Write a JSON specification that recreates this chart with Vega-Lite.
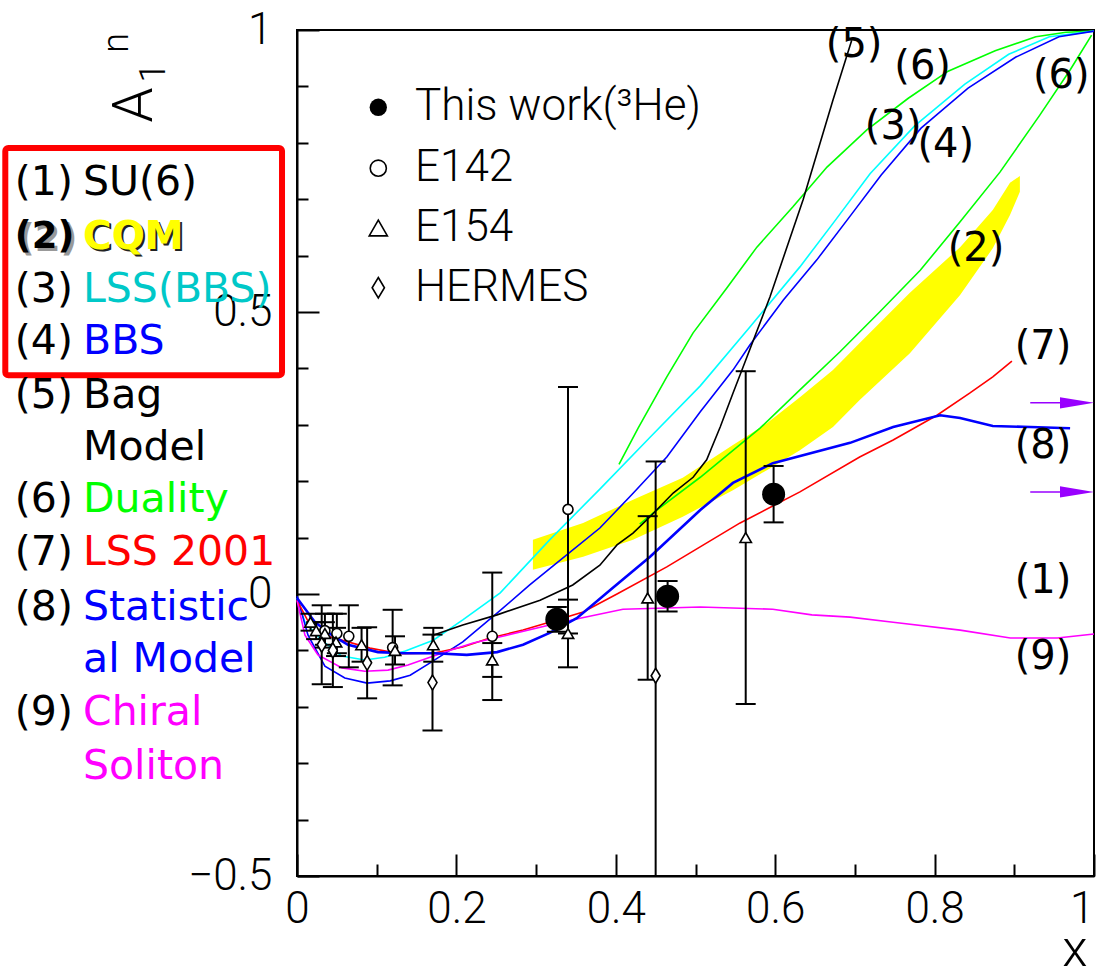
{
  "$schema": "https://vega.github.io/schema/vega-lite/v6.json",
  "width": 797,
  "height": 846,
  "autosize": "none",
  "padding": {"left": 297, "top": 30, "right": 9, "bottom": 102},
  "background": "white",
  "config": {"view": {"stroke": "black", "strokeWidth": 2}},
  "datasets": {
    "curves": [
      {"s": "dual", "x": 0.404, "y": 0.230}, {"s": "dual", "x": 0.428, "y": 0.294}, {"s": "dual", "x": 0.464, "y": 0.385}, {"s": "dual", "x": 0.497, "y": 0.463}, {"s": "dual", "x": 0.540, "y": 0.544}, {"s": "dual", "x": 0.577, "y": 0.615}, {"s": "dual", "x": 0.622, "y": 0.686}, {"s": "dual", "x": 0.665, "y": 0.757}, {"s": "dual", "x": 0.715, "y": 0.823}, {"s": "dual", "x": 0.767, "y": 0.879}, {"s": "dual", "x": 0.817, "y": 0.927}, {"s": "dual", "x": 0.876, "y": 0.963}, {"s": "dual", "x": 0.927, "y": 0.988}, {"s": "dual", "x": 0.965, "y": 0.996}, {"s": "dual", "x": 1.0, "y": 0.998},
      {"s": "dual2", "x": 0.430, "y": 0.124}, {"s": "dual2", "x": 0.447, "y": 0.144}, {"s": "dual2", "x": 0.506, "y": 0.207}, {"s": "dual2", "x": 0.581, "y": 0.294}, {"s": "dual2", "x": 0.631, "y": 0.362}, {"s": "dual2", "x": 0.681, "y": 0.429}, {"s": "dual2", "x": 0.731, "y": 0.500}, {"s": "dual2", "x": 0.782, "y": 0.574}, {"s": "dual2", "x": 0.832, "y": 0.660}, {"s": "dual2", "x": 0.882, "y": 0.748}, {"s": "dual2", "x": 0.932, "y": 0.849}, {"s": "dual2", "x": 0.970, "y": 0.929}, {"s": "dual2", "x": 0.997, "y": 0.991},
      {"s": "lss", "x": 0.0, "y": -0.007}, {"s": "lss", "x": 0.010, "y": -0.050}, {"s": "lss", "x": 0.031, "y": -0.082}, {"s": "lss", "x": 0.056, "y": -0.110}, {"s": "lss", "x": 0.085, "y": -0.117}, {"s": "lss", "x": 0.110, "y": -0.112}, {"s": "lss", "x": 0.136, "y": -0.101}, {"s": "lss", "x": 0.171, "y": -0.082}, {"s": "lss", "x": 0.208, "y": -0.046}, {"s": "lss", "x": 0.255, "y": 0.002}, {"s": "lss", "x": 0.317, "y": 0.096}, {"s": "lss", "x": 0.380, "y": 0.186}, {"s": "lss", "x": 0.443, "y": 0.278}, {"s": "lss", "x": 0.506, "y": 0.369}, {"s": "lss", "x": 0.568, "y": 0.473}, {"s": "lss", "x": 0.631, "y": 0.580}, {"s": "lss", "x": 0.673, "y": 0.658}, {"s": "lss", "x": 0.719, "y": 0.745}, {"s": "lss", "x": 0.775, "y": 0.830}, {"s": "lss", "x": 0.838, "y": 0.904}, {"s": "lss", "x": 0.893, "y": 0.957}, {"s": "lss", "x": 0.944, "y": 0.988}, {"s": "lss", "x": 1.0, "y": 0.998},
      {"s": "bbs", "x": 0.0, "y": -0.004}, {"s": "bbs", "x": 0.0138, "y": -0.073}, {"s": "bbs", "x": 0.035, "y": -0.128}, {"s": "bbs", "x": 0.060, "y": -0.149}, {"s": "bbs", "x": 0.088, "y": -0.158}, {"s": "bbs", "x": 0.117, "y": -0.154}, {"s": "bbs", "x": 0.142, "y": -0.144}, {"s": "bbs", "x": 0.167, "y": -0.122}, {"s": "bbs", "x": 0.208, "y": -0.085}, {"s": "bbs", "x": 0.251, "y": -0.034}, {"s": "bbs", "x": 0.292, "y": 0.016}, {"s": "bbs", "x": 0.326, "y": 0.055}, {"s": "bbs", "x": 0.380, "y": 0.117}, {"s": "bbs", "x": 0.422, "y": 0.179}, {"s": "bbs", "x": 0.464, "y": 0.243}, {"s": "bbs", "x": 0.506, "y": 0.323}, {"s": "bbs", "x": 0.547, "y": 0.397}, {"s": "bbs", "x": 0.568, "y": 0.441}, {"s": "bbs", "x": 0.610, "y": 0.521}, {"s": "bbs", "x": 0.652, "y": 0.592}, {"s": "bbs", "x": 0.694, "y": 0.670}, {"s": "bbs", "x": 0.733, "y": 0.743}, {"s": "bbs", "x": 0.783, "y": 0.826}, {"s": "bbs", "x": 0.842, "y": 0.897}, {"s": "bbs", "x": 0.902, "y": 0.952}, {"s": "bbs", "x": 0.956, "y": 0.988}, {"s": "bbs", "x": 1.0, "y": 0.998},
      {"s": "lss01", "x": 0.0, "y": -0.011}, {"s": "lss01", "x": 0.0163, "y": -0.055}, {"s": "lss01", "x": 0.0414, "y": -0.076}, {"s": "lss01", "x": 0.0916, "y": -0.096}, {"s": "lss01", "x": 0.129, "y": -0.106}, {"s": "lss01", "x": 0.171, "y": -0.105}, {"s": "lss01", "x": 0.208, "y": -0.094}, {"s": "lss01", "x": 0.242, "y": -0.078}, {"s": "lss01", "x": 0.2836, "y": -0.064}, {"s": "lss01", "x": 0.326, "y": -0.046}, {"s": "lss01", "x": 0.359, "y": -0.032}, {"s": "lss01", "x": 0.4015, "y": 0.0}, {"s": "lss01", "x": 0.464, "y": 0.048}, {"s": "lss01", "x": 0.556, "y": 0.126}, {"s": "lss01", "x": 0.631, "y": 0.181}, {"s": "lss01", "x": 0.706, "y": 0.243}, {"s": "lss01", "x": 0.748, "y": 0.273}, {"s": "lss01", "x": 0.803, "y": 0.317}, {"s": "lss01", "x": 0.844, "y": 0.356}, {"s": "lss01", "x": 0.873, "y": 0.385}, {"s": "lss01", "x": 0.897, "y": 0.413},
      {"s": "chiral", "x": 0.0, "y": -0.011}, {"s": "chiral", "x": 0.010, "y": -0.073}, {"s": "chiral", "x": 0.0263, "y": -0.108}, {"s": "chiral", "x": 0.0565, "y": -0.131}, {"s": "chiral", "x": 0.085, "y": -0.137}, {"s": "chiral", "x": 0.1142, "y": -0.135}, {"s": "chiral", "x": 0.1393, "y": -0.126}, {"s": "chiral", "x": 0.1669, "y": -0.112}, {"s": "chiral", "x": 0.1945, "y": -0.099}, {"s": "chiral", "x": 0.221, "y": -0.087}, {"s": "chiral", "x": 0.2635, "y": -0.073}, {"s": "chiral", "x": 0.317, "y": -0.055}, {"s": "chiral", "x": 0.3551, "y": -0.043}, {"s": "chiral", "x": 0.409, "y": -0.027}, {"s": "chiral", "x": 0.506, "y": -0.023}, {"s": "chiral", "x": 0.597, "y": -0.027}, {"s": "chiral", "x": 0.646, "y": -0.037}, {"s": "chiral", "x": 0.694, "y": -0.041}, {"s": "chiral", "x": 0.748, "y": -0.050}, {"s": "chiral", "x": 0.832, "y": -0.064}, {"s": "chiral", "x": 0.895, "y": -0.078}, {"s": "chiral", "x": 0.954, "y": -0.078}, {"s": "chiral", "x": 1.0, "y": -0.071},
      {"s": "bag", "x": 0.1706, "y": -0.073}, {"s": "bag", "x": 0.208, "y": -0.055}, {"s": "bag", "x": 0.251, "y": -0.037}, {"s": "bag", "x": 0.305, "y": -0.011}, {"s": "bag", "x": 0.346, "y": 0.016}, {"s": "bag", "x": 0.380, "y": 0.051}, {"s": "bag", "x": 0.4015, "y": 0.087}, {"s": "bag", "x": 0.4216, "y": 0.108}, {"s": "bag", "x": 0.443, "y": 0.137}, {"s": "bag", "x": 0.472, "y": 0.179}, {"s": "bag", "x": 0.497, "y": 0.207}, {"s": "bag", "x": 0.514, "y": 0.238}, {"s": "bag", "x": 0.531, "y": 0.296}, {"s": "bag", "x": 0.547, "y": 0.356}, {"s": "bag", "x": 0.5596, "y": 0.402}, {"s": "bag", "x": 0.5935, "y": 0.527}, {"s": "bag", "x": 0.635, "y": 0.699}, {"s": "bag", "x": 0.6725, "y": 0.876}, {"s": "bag", "x": 0.696, "y": 0.982}
    ],
    "stat": [
      {"s": "stat", "x": 0.0, "y": -0.007}, {"s": "stat", "x": 0.0226, "y": -0.050}, {"s": "stat", "x": 0.0439, "y": -0.073}, {"s": "stat", "x": 0.064, "y": -0.090}, {"s": "stat", "x": 0.1016, "y": -0.103}, {"s": "stat", "x": 0.1355, "y": -0.105}, {"s": "stat", "x": 0.173, "y": -0.105}, {"s": "stat", "x": 0.213, "y": -0.108}, {"s": "stat", "x": 0.251, "y": -0.103}, {"s": "stat", "x": 0.2836, "y": -0.090}, {"s": "stat", "x": 0.317, "y": -0.069}, {"s": "stat", "x": 0.351, "y": -0.043}, {"s": "stat", "x": 0.393, "y": 0.007}, {"s": "stat", "x": 0.443, "y": 0.066}, {"s": "stat", "x": 0.506, "y": 0.149}, {"s": "stat", "x": 0.547, "y": 0.197}, {"s": "stat", "x": 0.597, "y": 0.232}, {"s": "stat", "x": 0.694, "y": 0.268}, {"s": "stat", "x": 0.748, "y": 0.296}, {"s": "stat", "x": 0.807, "y": 0.317}, {"s": "stat", "x": 0.832, "y": 0.312}, {"s": "stat", "x": 0.873, "y": 0.298}, {"s": "stat", "x": 0.920, "y": 0.296}, {"s": "stat", "x": 0.970, "y": 0.294}
    ],
    "band": [
      {"x": 0.296, "lo": 0.043, "hi": 0.096}, {"x": 0.359, "lo": 0.066, "hi": 0.126}, {"x": 0.4216, "lo": 0.096, "hi": 0.167}, {"x": 0.484, "lo": 0.137, "hi": 0.206}, {"x": 0.547, "lo": 0.184, "hi": 0.264}, {"x": 0.590, "lo": 0.220, "hi": 0.303}, {"x": 0.631, "lo": 0.255, "hi": 0.349}, {"x": 0.6725, "lo": 0.296, "hi": 0.397}, {"x": 0.706, "lo": 0.344, "hi": 0.445}, {"x": 0.769, "lo": 0.427, "hi": 0.534}, {"x": 0.832, "lo": 0.530, "hi": 0.615}, {"x": 0.873, "lo": 0.613, "hi": 0.681}, {"x": 0.8946, "lo": 0.672, "hi": 0.729}, {"x": 0.907, "lo": 0.713, "hi": 0.741}
    ],
    "pts": [
      {"set": "This work", "x": 0.326, "y": -0.045, "lo": -0.067, "hi": -0.023},
      {"set": "This work", "x": 0.465, "y": -0.004, "lo": -0.031, "hi": 0.023},
      {"set": "This work", "x": 0.598, "y": 0.177, "lo": 0.127, "hi": 0.227},
      {"set": "E142", "x": 0.035, "y": -0.065, "lo": -0.095, "hi": -0.035},
      {"set": "E142", "x": 0.050, "y": -0.070, "lo": -0.105, "hi": -0.035},
      {"set": "E142", "x": 0.065, "y": -0.075, "lo": -0.130, "hi": -0.020},
      {"set": "E142", "x": 0.120, "y": -0.095, "lo": -0.162, "hi": -0.028},
      {"set": "E142", "x": 0.245, "y": -0.075, "lo": -0.188, "hi": 0.038},
      {"set": "E142", "x": 0.340, "y": 0.150, "lo": -0.070, "hi": 0.367},
      {"set": "E154", "x": 0.017, "y": -0.050, "lo": -0.065, "hi": -0.035},
      {"set": "E154", "x": 0.024, "y": -0.065, "lo": -0.080, "hi": -0.050},
      {"set": "E154", "x": 0.035, "y": -0.070, "lo": -0.090, "hi": -0.050},
      {"set": "E154", "x": 0.049, "y": -0.085, "lo": -0.110, "hi": -0.060},
      {"set": "E154", "x": 0.081, "y": -0.090, "lo": -0.120, "hi": -0.060},
      {"set": "E154", "x": 0.123, "y": -0.100, "lo": -0.125, "hi": -0.075},
      {"set": "E154", "x": 0.171, "y": -0.090, "lo": -0.120, "hi": -0.060},
      {"set": "E154", "x": 0.245, "y": -0.117, "lo": -0.147, "hi": -0.087},
      {"set": "E154", "x": 0.340, "y": -0.070, "lo": -0.130, "hi": -0.010},
      {"set": "E154", "x": 0.440, "y": -0.007, "lo": -0.152, "hi": 0.138},
      {"set": "E154", "x": 0.563, "y": 0.100, "lo": -0.195, "hi": 0.395},
      {"set": "HERMES", "x": 0.031, "y": -0.090, "lo": -0.160, "hi": -0.020},
      {"set": "HERMES", "x": 0.045, "y": -0.100, "lo": -0.165, "hi": -0.035},
      {"set": "HERMES", "x": 0.088, "y": -0.122, "lo": -0.185, "hi": -0.059},
      {"set": "HERMES", "x": 0.170, "y": -0.157, "lo": -0.242, "hi": -0.072},
      {"set": "HERMES", "x": 0.450, "y": -0.145, "lo": -0.525, "hi": 0.235}
    ],
    "leg": [
      {"set": "This work", "t": "This work(³He)", "x": 0.102, "xt": 0.148, "y": 0.863},
      {"set": "E142", "t": "E142", "x": 0.102, "xt": 0.148, "y": 0.755},
      {"set": "E154", "t": "E154", "x": 0.102, "xt": 0.148, "y": 0.649},
      {"set": "HERMES", "t": "HERMES", "x": 0.102, "xt": 0.148, "y": 0.543}
    ],
    "tags": [
      {"t": "(5)", "x": 0.699, "y": 0.973}, {"t": "(6)", "x": 0.785, "y": 0.934}, {"t": "(6)", "x": 0.959, "y": 0.918},
      {"t": "(3)", "x": 0.748, "y": 0.828}, {"t": "(4)", "x": 0.814, "y": 0.796}, {"t": "(2)", "x": 0.852, "y": 0.612},
      {"t": "(7)", "x": 0.936, "y": 0.438}, {"t": "(8)", "x": 0.936, "y": 0.262}, {"t": "(1)", "x": 0.936, "y": 0.023}, {"t": "(9)", "x": 0.936, "y": -0.112}
    ],
    "nums": [
      {"t": "(1)", "x": -0.354, "y": 0.7287}, {"t": "(3)", "x": -0.354, "y": 0.539}, {"t": "(4)", "x": -0.354, "y": 0.4468},
      {"t": "(5)", "x": -0.354, "y": 0.351}, {"t": "(6)", "x": -0.354, "y": 0.1667}, {"t": "(7)", "x": -0.354, "y": 0.0727},
      {"t": "(8)", "x": -0.354, "y": -0.0248}, {"t": "(9)", "x": -0.354, "y": -0.211}
    ],
    "names": [
      {"t": "SU(6)", "s": "su6", "x": -0.2685, "y": 0.7287},
      {"t": "LSS(BBS)", "s": "lssT", "x": -0.2685, "y": 0.539},
      {"t": "BBS", "s": "bbs", "x": -0.2685, "y": 0.4468},
      {"t": "Bag", "s": "bag", "x": -0.2685, "y": 0.351},
      {"t": "Model", "s": "bag", "x": -0.2685, "y": 0.2589},
      {"t": "Duality", "s": "dual", "x": -0.2685, "y": 0.1667},
      {"t": "LSS 2001", "s": "lss01", "x": -0.2685, "y": 0.0727},
      {"t": "Statistic", "s": "stat", "x": -0.2685, "y": -0.0248},
      {"t": "al Model", "s": "stat", "x": -0.2685, "y": -0.117},
      {"t": "Chiral", "s": "chiral", "x": -0.2685, "y": -0.211},
      {"t": "Soliton", "s": "chiral", "x": -0.2685, "y": -0.3067}
    ],
    "cqm": [{"n": "(2)", "t": "CQM", "x": -0.354, "xt": -0.2685, "y": 0.633}],
    "box": [{"x": -0.366, "x2": -0.0188, "y": 0.791, "y2": 0.388}],
    "arrows": [{"x": 0.92, "x2": 0.985, "xh": 0.9787, "y": 0.339}, {"x": 0.92, "x2": 0.985, "xh": 0.9787, "y": 0.181}],
    "ylab": [{"t": "A", "x": -0.203, "y": 0.867, "k": "big"}, {"t": "1", "x": -0.179, "y": 0.924, "k": "small"}, {"t": "n", "x": -0.226, "y": 0.977, "k": "small"}],
    "xlab": [{"t": "x", "x": 0.976, "y": -0.679}]
  },
  "layer": [
    {
      "data": {"name": "band"},
      "mark": {"type": "area", "color": "#FFFF00", "opacity": 1},
      "encoding": {
        "x": {"field": "x", "type": "quantitative", "scale": {"domain": [0, 1], "nice": false, "zero": false}},
        "y": {"field": "lo", "type": "quantitative", "scale": {"domain": [-0.5, 1], "nice": false, "zero": false}},
        "y2": {"field": "hi"}
      }
    },
    {
      "data": {"name": "curves"},
      "mark": {"type": "line", "strokeWidth": 1.6, "opacity": 1},
      "encoding": {
        "x": {"field": "x", "type": "quantitative", "scale": {"domain": [0, 1], "nice": false, "zero": false},
          "axis": {"values": [0, 0.05, 0.1, 0.15, 0.2, 0.25, 0.3, 0.35, 0.4, 0.45, 0.5, 0.55, 0.6, 0.65, 0.7, 0.75, 0.8, 0.85, 0.9, 0.95, 1],
            "labelExpr": "datum.value==0?'0':datum.value==0.2?'0.2':datum.value==0.4?'0.4':datum.value==0.6?'0.6':datum.value==0.8?'0.8':datum.value==1?'1':''",
            "tickSize": {"condition": {"test": "datum.value==0||datum.value==0.2||datum.value==0.4||datum.value==0.6||datum.value==0.8||datum.value==1", "value": -22}, "value": -12},
            "labelAlign": {"condition": {"test": "datum.value==1", "value": "right"}, "value": "center"},
            "tickColor": "black", "tickWidth": 2, "domainColor": "black", "domainWidth": 2, "grid": false, "title": null,
            "labelFont": "Roboto", "labelFontWeight": 300, "labelFontSize": 44, "labelColor": "black", "labelPadding": 33,
            "labelFlush": false, "labelOverlap": false, "labelBound": false}},
        "y": {"field": "y", "type": "quantitative", "scale": {"domain": [-0.5, 1], "nice": false, "zero": false},
          "axis": {"values": [-0.5, -0.4, -0.3, -0.2, -0.1, 0, 0.1, 0.2, 0.3, 0.4, 0.5, 0.6, 0.7, 0.8, 0.9, 1],
            "labelExpr": "datum.value==1?'1':datum.value==0.5?'0.5':datum.value==0?'0':datum.value==-0.5?'\u22120.5':''",
            "tickSize": {"condition": {"test": "datum.value==-0.5||datum.value==0||datum.value==0.5||datum.value==1", "value": -22}, "value": -11},
            "tickColor": "black", "tickWidth": 2, "domainColor": "black", "domainWidth": 2, "grid": false, "title": null,
            "labelFont": "Roboto", "labelFontWeight": 300, "labelFontSize": 44, "labelColor": "black", "labelPadding": 47,
            "labelFlush": false, "labelOverlap": false, "labelBound": false}},
        "color": {"field": "s", "type": "nominal", "legend": null,
          "scale": {"domain": ["su6", "cqm", "lss", "lssT", "bbs", "bag", "dual", "dual2", "lss01", "stat", "chiral"],
            "range": ["#000000", "#FFFF00", "#00FFFF", "#00C8C8", "#0000FF", "#000000", "#00FF00", "#00FF00", "#FF0000", "#0000FF", "#FF00FF"]}}
      }
    },
    {
      "data": {"name": "stat"},
      "mark": {"type": "line", "strokeWidth": 2.6, "color": "#0000FF", "opacity": 1},
      "encoding": {
        "x": {"field": "x", "type": "quantitative", "scale": {"domain": [0, 1], "nice": false, "zero": false}},
        "y": {"field": "y", "type": "quantitative", "scale": {"domain": [-0.5, 1], "nice": false, "zero": false}}
      }
    },
    {
      "mark": {"type": "rule", "color": "black", "strokeWidth": 2},
      "encoding": {
        "y": {"datum": 0, "type": "quantitative", "scale": {"domain": [-0.5, 1], "nice": false, "zero": false}}
      }
    },
    {
      "data": {"name": "pts"},
      "mark": {"type": "rule", "color": "black", "strokeWidth": 2, "clip": true},
      "encoding": {
        "x": {"field": "x", "type": "quantitative", "scale": {"domain": [0, 1], "nice": false, "zero": false}},
        "y": {"field": "lo", "type": "quantitative", "scale": {"domain": [-0.5, 1], "nice": false, "zero": false}},
        "y2": {"field": "hi"}
      }
    },
    {
      "data": {"name": "pts"},
      "mark": {"type": "tick", "orient": "horizontal", "size": 20, "thickness": 2, "color": "black", "opacity": 1, "clip": true},
      "encoding": {
        "x": {"field": "x", "type": "quantitative", "scale": {"domain": [0, 1], "nice": false, "zero": false}},
        "y": {"field": "lo", "type": "quantitative", "scale": {"domain": [-0.5, 1], "nice": false, "zero": false}}
      }
    },
    {
      "data": {"name": "pts"},
      "mark": {"type": "tick", "orient": "horizontal", "size": 20, "thickness": 2, "color": "black", "opacity": 1, "clip": true},
      "encoding": {
        "x": {"field": "x", "type": "quantitative", "scale": {"domain": [0, 1], "nice": false, "zero": false}},
        "y": {"field": "hi", "type": "quantitative", "scale": {"domain": [-0.5, 1], "nice": false, "zero": false}}
      }
    },
    {
      "data": {"name": "pts"},
      "transform": [{"filter": "datum.set == 'E142'"}],
      "mark": {"type": "point", "shape": "circle", "size": 100, "fill": "white", "stroke": "black", "strokeWidth": 1.6, "opacity": 1, "fillOpacity": 1},
      "encoding": {
        "x": {"field": "x", "type": "quantitative", "scale": {"domain": [0, 1], "nice": false, "zero": false}},
        "y": {"field": "y", "type": "quantitative", "scale": {"domain": [-0.5, 1], "nice": false, "zero": false}}
      }
    },
    {
      "data": {"name": "pts"},
      "transform": [{"filter": "datum.set == 'E154'"}],
      "mark": {"type": "point", "shape": "triangle-up", "size": 130, "fill": "white", "stroke": "black", "strokeWidth": 1.6, "opacity": 1, "fillOpacity": 1},
      "encoding": {
        "x": {"field": "x", "type": "quantitative", "scale": {"domain": [0, 1], "nice": false, "zero": false}},
        "y": {"field": "y", "type": "quantitative", "scale": {"domain": [-0.5, 1], "nice": false, "zero": false}}
      }
    },
    {
      "data": {"name": "pts"},
      "transform": [{"filter": "datum.set == 'HERMES'"}],
      "mark": {"type": "point", "shape": "M0,-1L0.6,0L0,1L-0.6,0Z", "size": 225, "fill": "white", "stroke": "black", "strokeWidth": 1.6, "opacity": 1, "fillOpacity": 1},
      "encoding": {
        "x": {"field": "x", "type": "quantitative", "scale": {"domain": [0, 1], "nice": false, "zero": false}},
        "y": {"field": "y", "type": "quantitative", "scale": {"domain": [-0.5, 1], "nice": false, "zero": false}}
      }
    },
    {
      "data": {"name": "pts"},
      "transform": [{"filter": "datum.set == 'This work'"}],
      "mark": {"type": "point", "shape": "circle", "size": 530, "filled": true, "color": "black", "opacity": 1},
      "encoding": {
        "x": {"field": "x", "type": "quantitative", "scale": {"domain": [0, 1], "nice": false, "zero": false}},
        "y": {"field": "y", "type": "quantitative", "scale": {"domain": [-0.5, 1], "nice": false, "zero": false}}
      }
    },
    {
      "data": {"name": "leg"},
      "transform": [{"filter": "datum.set == 'This work'"}],
      "mark": {"type": "point", "shape": "circle", "size": 300, "filled": true, "color": "black", "opacity": 1},
      "encoding": {
        "x": {"field": "x", "type": "quantitative", "scale": {"domain": [0, 1], "nice": false, "zero": false}},
        "y": {"field": "y", "type": "quantitative", "scale": {"domain": [-0.5, 1], "nice": false, "zero": false}}
      }
    },
    {
      "data": {"name": "leg"},
      "transform": [{"filter": "datum.set == 'E142'"}],
      "mark": {"type": "point", "shape": "circle", "size": 260, "fill": "white", "stroke": "black", "strokeWidth": 1.6, "opacity": 1, "fillOpacity": 1},
      "encoding": {
        "x": {"field": "x", "type": "quantitative", "scale": {"domain": [0, 1], "nice": false, "zero": false}},
        "y": {"field": "y", "type": "quantitative", "scale": {"domain": [-0.5, 1], "nice": false, "zero": false}}
      }
    },
    {
      "data": {"name": "leg"},
      "transform": [{"filter": "datum.set == 'E154'"}],
      "mark": {"type": "point", "shape": "triangle-up", "size": 330, "fill": "white", "stroke": "black", "strokeWidth": 1.6, "opacity": 1, "fillOpacity": 1},
      "encoding": {
        "x": {"field": "x", "type": "quantitative", "scale": {"domain": [0, 1], "nice": false, "zero": false}},
        "y": {"field": "y", "type": "quantitative", "scale": {"domain": [-0.5, 1], "nice": false, "zero": false}}
      }
    },
    {
      "data": {"name": "leg"},
      "transform": [{"filter": "datum.set == 'HERMES'"}],
      "mark": {"type": "point", "shape": "M0,-1L0.6,0L0,1L-0.6,0Z", "size": 420, "fill": "white", "stroke": "black", "strokeWidth": 1.6, "opacity": 1, "fillOpacity": 1},
      "encoding": {
        "x": {"field": "x", "type": "quantitative", "scale": {"domain": [0, 1], "nice": false, "zero": false}},
        "y": {"field": "y", "type": "quantitative", "scale": {"domain": [-0.5, 1], "nice": false, "zero": false}}
      }
    },
    {
      "data": {"name": "leg"},
      "mark": {"type": "text", "align": "left", "baseline": "middle", "font": "Roboto", "fontWeight": 300, "fontSize": 44, "color": "black"},
      "encoding": {
        "x": {"field": "xt", "type": "quantitative", "scale": {"domain": [0, 1], "nice": false, "zero": false}},
        "y": {"field": "y", "type": "quantitative", "scale": {"domain": [-0.5, 1], "nice": false, "zero": false}},
        "text": {"field": "t"}
      }
    },
    {
      "data": {"name": "arrows"},
      "mark": {"type": "rule", "color": "#9900FF", "strokeWidth": 1.5},
      "encoding": {
        "x": {"field": "x", "type": "quantitative", "scale": {"domain": [0, 1], "nice": false, "zero": false}},
        "x2": {"field": "x2"},
        "y": {"field": "y", "type": "quantitative", "scale": {"domain": [-0.5, 1], "nice": false, "zero": false}}
      }
    },
    {
      "data": {"name": "arrows"},
      "mark": {"type": "point", "shape": "M-1,-0.33L1,0L-1,0.33Z", "size": 1156, "filled": true, "color": "#9900FF", "opacity": 1},
      "encoding": {
        "x": {"field": "xh", "type": "quantitative", "scale": {"domain": [0, 1], "nice": false, "zero": false}},
        "y": {"field": "y", "type": "quantitative", "scale": {"domain": [-0.5, 1], "nice": false, "zero": false}}
      }
    },
    {
      "data": {"name": "tags"},
      "mark": {"type": "text", "align": "center", "baseline": "middle", "font": "DejaVu Sans", "fontSize": 40, "color": "black"},
      "encoding": {
        "x": {"field": "x", "type": "quantitative", "scale": {"domain": [0, 1], "nice": false, "zero": false}},
        "y": {"field": "y", "type": "quantitative", "scale": {"domain": [-0.5, 1], "nice": false, "zero": false}},
        "text": {"field": "t"}
      }
    },
    {
      "data": {"name": "box"},
      "mark": {"type": "rect", "fill": null, "fillOpacity": 0, "stroke": "#FF0000", "strokeWidth": 6, "cornerRadius": 3},
      "encoding": {
        "x": {"field": "x", "type": "quantitative", "scale": {"domain": [0, 1], "nice": false, "zero": false}},
        "x2": {"field": "x2"},
        "y": {"field": "y", "type": "quantitative", "scale": {"domain": [-0.5, 1], "nice": false, "zero": false}},
        "y2": {"field": "y2"}
      }
    },
    {
      "data": {"name": "nums"},
      "mark": {"type": "text", "align": "left", "baseline": "middle", "font": "DejaVu Sans", "fontSize": 41, "color": "black"},
      "encoding": {
        "x": {"field": "x", "type": "quantitative", "scale": {"domain": [0, 1], "nice": false, "zero": false}},
        "y": {"field": "y", "type": "quantitative", "scale": {"domain": [-0.5, 1], "nice": false, "zero": false}},
        "text": {"field": "t"}
      }
    },
    {
      "data": {"name": "names"},
      "mark": {"type": "text", "align": "left", "baseline": "middle", "font": "DejaVu Sans", "fontSize": 41},
      "encoding": {
        "x": {"field": "x", "type": "quantitative", "scale": {"domain": [0, 1], "nice": false, "zero": false}},
        "y": {"field": "y", "type": "quantitative", "scale": {"domain": [-0.5, 1], "nice": false, "zero": false}},
        "text": {"field": "t"},
        "color": {"field": "s", "type": "nominal", "legend": null,
          "scale": {"domain": ["su6", "cqm", "lss", "lssT", "bbs", "bag", "dual", "dual2", "lss01", "stat", "chiral"],
            "range": ["#000000", "#FFFF00", "#00FFFF", "#00C8C8", "#0000FF", "#000000", "#00FF00", "#00FF00", "#FF0000", "#0000FF", "#FF00FF"]}}
      }
    },
    {
      "data": {"name": "cqm"},
      "mark": {"type": "text", "align": "left", "baseline": "middle", "font": "DejaVu Sans", "fontSize": 37, "fontWeight": "bold", "color": "#999999", "dx": 3, "dy": 3},
      "encoding": {
        "x": {"field": "x", "type": "quantitative", "scale": {"domain": [0, 1], "nice": false, "zero": false}},
        "y": {"field": "y", "type": "quantitative", "scale": {"domain": [-0.5, 1], "nice": false, "zero": false}},
        "text": {"field": "n"}
      }
    },
    {
      "data": {"name": "cqm"},
      "mark": {"type": "text", "align": "left", "baseline": "middle", "font": "DejaVu Sans", "fontSize": 37, "fontWeight": "bold", "color": "black"},
      "encoding": {
        "x": {"field": "x", "type": "quantitative", "scale": {"domain": [0, 1], "nice": false, "zero": false}},
        "y": {"field": "y", "type": "quantitative", "scale": {"domain": [-0.5, 1], "nice": false, "zero": false}},
        "text": {"field": "n"}
      }
    },
    {
      "data": {"name": "cqm"},
      "mark": {"type": "text", "align": "left", "baseline": "middle", "font": "DejaVu Sans", "fontSize": 39, "fontWeight": "bold", "color": "#222222", "dx": 2, "dy": 2},
      "encoding": {
        "x": {"field": "xt", "type": "quantitative", "scale": {"domain": [0, 1], "nice": false, "zero": false}},
        "y": {"field": "y", "type": "quantitative", "scale": {"domain": [-0.5, 1], "nice": false, "zero": false}},
        "text": {"field": "t"}
      }
    },
    {
      "data": {"name": "cqm"},
      "mark": {"type": "text", "align": "left", "baseline": "middle", "font": "DejaVu Sans", "fontSize": 39, "fontWeight": "bold", "color": "#FFFF00"},
      "encoding": {
        "x": {"field": "xt", "type": "quantitative", "scale": {"domain": [0, 1], "nice": false, "zero": false}},
        "y": {"field": "y", "type": "quantitative", "scale": {"domain": [-0.5, 1], "nice": false, "zero": false}},
        "text": {"field": "t"}
      }
    },
    {
      "data": {"name": "ylab"},
      "transform": [{"filter": "datum.k == 'big'"}],
      "mark": {"type": "text", "align": "center", "baseline": "middle", "font": "Roboto", "fontWeight": 300, "fontSize": 56, "angle": 270, "color": "black"},
      "encoding": {
        "x": {"field": "x", "type": "quantitative", "scale": {"domain": [0, 1], "nice": false, "zero": false}},
        "y": {"field": "y", "type": "quantitative", "scale": {"domain": [-0.5, 1], "nice": false, "zero": false}},
        "text": {"field": "t"}
      }
    },
    {
      "data": {"name": "ylab"},
      "transform": [{"filter": "datum.k == 'small'"}],
      "mark": {"type": "text", "align": "center", "baseline": "middle", "font": "Roboto", "fontWeight": 300, "fontSize": 36, "angle": 270, "color": "black"},
      "encoding": {
        "x": {"field": "x", "type": "quantitative", "scale": {"domain": [0, 1], "nice": false, "zero": false}},
        "y": {"field": "y", "type": "quantitative", "scale": {"domain": [-0.5, 1], "nice": false, "zero": false}},
        "text": {"field": "t"}
      }
    },
    {
      "data": {"name": "xlab"},
      "mark": {"type": "text", "align": "center", "baseline": "bottom", "font": "Roboto", "fontWeight": 300, "fontSize": 52, "color": "black"},
      "encoding": {
        "x": {"field": "x", "type": "quantitative", "scale": {"domain": [0, 1], "nice": false, "zero": false}},
        "y": {"field": "y", "type": "quantitative", "scale": {"domain": [-0.5, 1], "nice": false, "zero": false}},
        "text": {"field": "t"}
      }
    }
  ]
}
